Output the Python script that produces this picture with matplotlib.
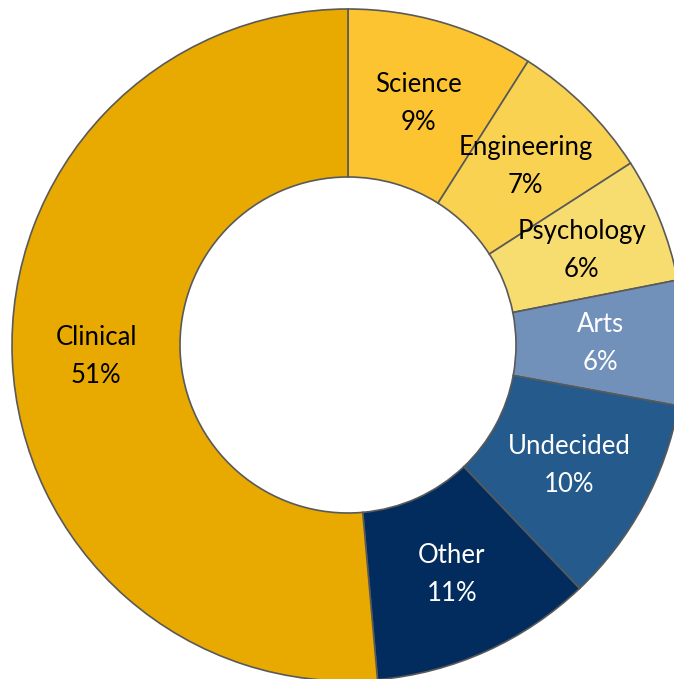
import numpy as np
import matplotlib.pyplot as plt

plt.rcParams['font.family'] = ['Lato', 'DejaVu Sans']

labels = ['Science', 'Engineering', 'Psychology', 'Arts', 'Undecided', 'Other', 'Clinical']
shares = [9.0, 6.9, 6.0, 6.0, 10.0, 10.7, 51.4]
shown = ['9%', '7%', '6%', '6%', '10%', '11%', '51%']
colors = ['#FBC430', '#FAD251', '#F7DC70', '#7191BB', '#245A8C', '#032C5E', '#E8AA00']
text_colors = ['black', 'black', 'black', 'white', 'white', 'white', 'black']

W, H = 674, 679
cx, cy, r = 348, 345, 336

fig = plt.figure(figsize=(W / 100, H / 100), dpi=100)
ax = fig.add_axes([(cx - r) / W, (H - cy - r) / H, 2 * r / W, 2 * r / H])

wedges, _ = ax.pie(shares, colors=colors, startangle=90, counterclock=False,
                   radius=1, wedgeprops=dict(width=0.5, edgecolor='#595959', linewidth=1.2))

for w, lab, pct, tc in zip(wedges, labels, shown, text_colors):
    ang = np.deg2rad((w.theta1 + w.theta2) / 2)
    x, y = 0.75 * np.cos(ang), 0.75 * np.sin(ang)
    ax.text(x, y, f'{lab}\n{pct}', ha='center', va='center', fontsize=18.5,
            color=tc, linespacing=1.65)

ax.set_xlim(-1, 1)
ax.set_ylim(-1, 1)
ax.axis('off')

fig.savefig('out.png', dpi=100)
